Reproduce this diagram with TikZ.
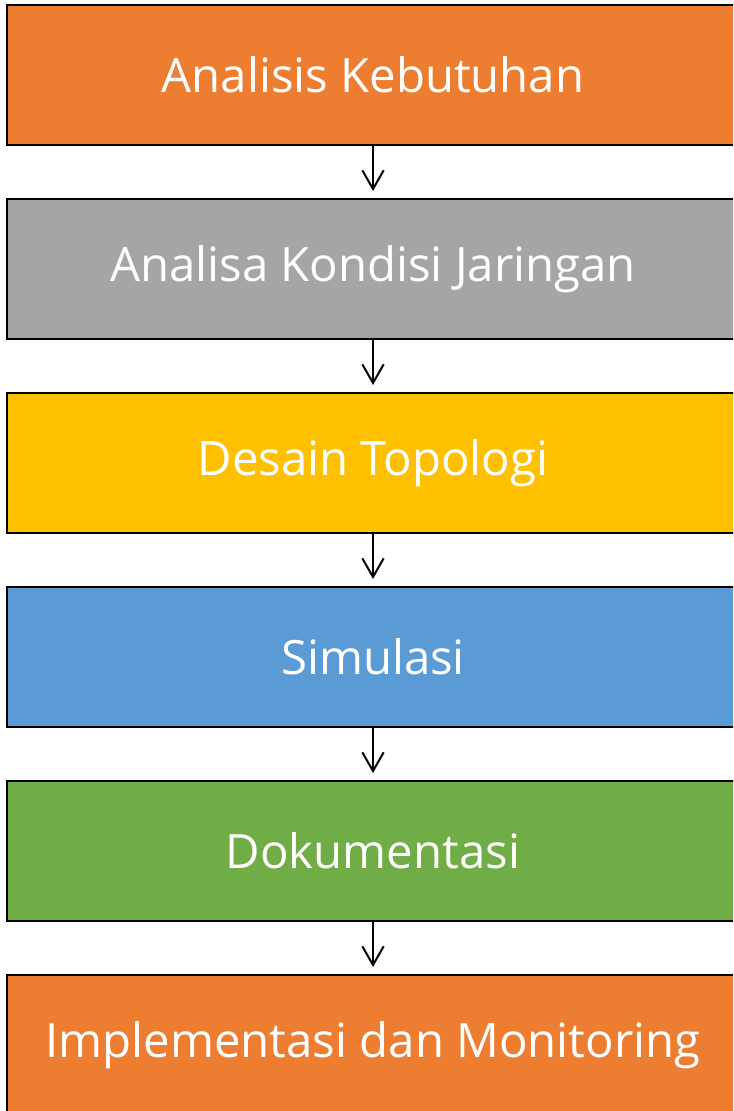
\documentclass[tikz,border=0pt]{standalone}
\usepackage{fontspec}
\setmainfont{Open Sans}
\usetikzlibrary{positioning, arrows.meta}
\definecolor{stgorange}{HTML}{ED7D31}
\definecolor{stggrey}{HTML}{A5A5A5}
\definecolor{stggold}{HTML}{FFC000}
\definecolor{stgblue}{HTML}{5B9BD5}
\definecolor{stggreen}{HTML}{70AD47}
\begin{document}
\begin{tikzpicture}[x=0.75pt, y=-0.75pt,
    stagebox/.style={draw=black, line width=2pt, text=white,
          minimum width=549pt, minimum height=105pt, inner sep=0pt,
          font=\fontsize{35.5}{42}\selectfont},
    flow/.style={-{Straight Barb[length=14pt, width=16pt, line width=1.5pt]},
          line width=1.5pt, shorten >=5pt}]
    \useasboundingbox (0,0) rectangle (733,1111);
    \clip (0,0) rectangle (733,1111);
    \node[stagebox, fill=stgorange] (kebutuhan) at (373,75) {Analisis Kebutuhan};
    \node[stagebox, fill=stggrey] (kondisi) at (373,269) {Analisa Kondisi Jaringan};
    \node[stagebox, fill=stggold] (desain) at (373,463) {Desain Topologi};
    \node[stagebox, fill=stgblue] (simulasi) at (373,657) {Simulasi};
    \node[stagebox, fill=stggreen] (dokumen) at (373,851) {Dokumentasi};
    \node[stagebox, fill=stgorange] (implementasi) at (373,1045) {Implementasi dan Monitoring};
    \draw[flow] (kebutuhan) -- (kondisi);
    \draw[flow] (kondisi) -- (desain);
    \draw[flow] (desain) -- (simulasi);
    \draw[flow] (simulasi) -- (dokumen);
    \draw[flow] (dokumen) -- (implementasi);
  \end{tikzpicture}
\end{document}
